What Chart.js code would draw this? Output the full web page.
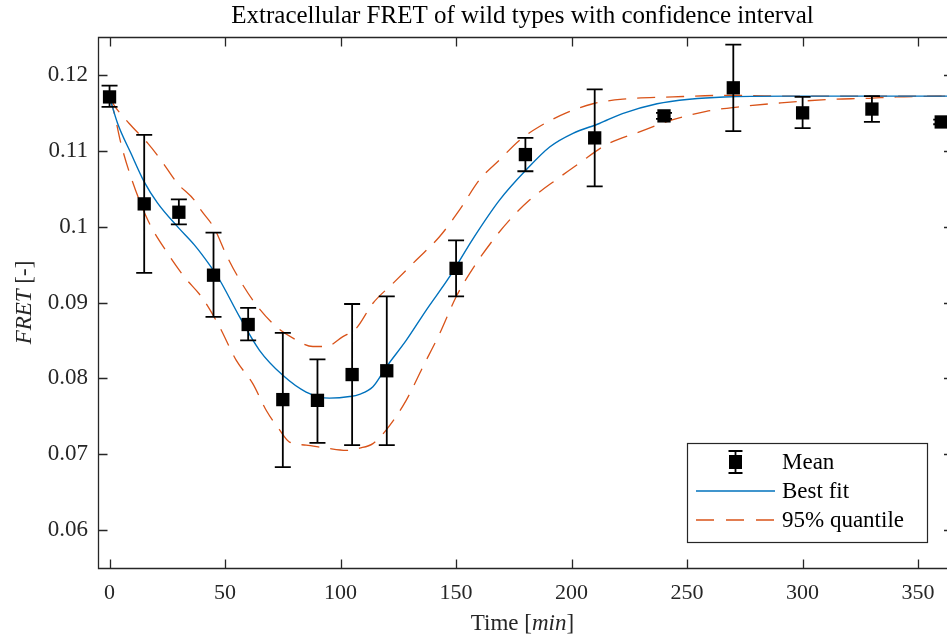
<!DOCTYPE html>
<html>
<head>
<meta charset="utf-8">
<title>Extracellular FRET</title>
<script src="https://cdn.jsdelivr.net/npm/chart.js@4.4.1/dist/chart.umd.min.js"></script>
<style>
  body { margin: 0; background: #fff; }
  canvas { display: block; }
</style>
</head>
<body>
<canvas id="fretChart" width="947" height="641"></canvas>
<script>
// measured means with error bounds
const times = [0, 15, 30, 45, 60, 75, 90, 105, 120, 150, 180, 210, 240, 270, 300, 330, 360];
const meanFret = [0.1171, 0.1030, 0.1019, 0.0936, 0.0871, 0.0772, 0.0771, 0.0805, 0.0810, 0.0945, 0.1095, 0.1117, 0.1146, 0.1183, 0.1150, 0.1155, 0.1138];
const errLow = [0.1158, 0.0939, 0.1003, 0.0881, 0.0850, 0.0683, 0.0715, 0.0712, 0.0712, 0.0908, 0.1073, 0.1053, 0.1142, 0.1126, 0.1130, 0.1138, 0.1135];
const errHigh = [0.1186, 0.1121, 0.1036, 0.0992, 0.0893, 0.0860, 0.0825, 0.0898, 0.0908, 0.0982, 0.1117, 0.1181, 0.1150, 0.1240, 0.1171, 0.1172, 0.1141];

// best fit curve
const fitTime = [0, 3.5, 9.2, 15, 20.8, 29.4, 36.7, 43.9, 47.6, 56.3, 64.9, 75, 85.1, 95.2, 103.9, 108.2, 114, 119.8, 128.4, 137.1, 147.2, 157.3, 168.8, 180.4, 190.5, 200.6, 212, 222, 237, 251, 266, 294, 330, 362.5];
const fitFret = [0.1171, 0.1136, 0.1097, 0.1059, 0.1031, 0.1000, 0.0976, 0.0947, 0.0930, 0.0881, 0.0837, 0.0804, 0.0782, 0.0774, 0.0776, 0.0779, 0.0789, 0.0815, 0.0850, 0.0890, 0.0934, 0.0984, 0.1035, 0.1075, 0.1105, 0.1123, 0.1136, 0.1149, 0.1162, 0.1168, 0.1171, 0.1172, 0.1172, 0.1172];

// 95% quantile band, upper and lower
const upperTime = [0, 2, 8.5, 16.5, 22.2, 29.4, 36.7, 39.5, 45.3, 50.5, 56.3, 63.5, 72.2, 79.4, 88, 93.8, 101, 106.8, 114, 122.6, 132.8, 142.9, 151.5, 160.2, 168.8, 177.5, 186.1, 197.7, 209.2, 222.2, 243.9, 265.5, 300, 362.5];
const upperFret = [0.1171, 0.1160, 0.1136, 0.1110, 0.1088, 0.1057, 0.1035, 0.1022, 0.0998, 0.0963, 0.0930, 0.0897, 0.0868, 0.0853, 0.0842, 0.0842, 0.0855, 0.0866, 0.0899, 0.0925, 0.0956, 0.0987, 0.1022, 0.1062, 0.1088, 0.1114, 0.1132, 0.1150, 0.1162, 0.1168, 0.1171, 0.1173, 0.1172, 0.1172];
const lowerTime = [0, 2, 4.9, 9.2, 16.5, 25.1, 32.3, 40.4, 47.6, 54.8, 62, 67.8, 73.6, 77.9, 85.1, 93.8, 102.5, 108.2, 114, 119.8, 128.4, 135.6, 142.9, 150.1, 157.3, 165.9, 173.2, 181.8, 193.4, 203.5, 215, 229.4, 243.9, 258.3, 272.7, 290, 313, 327.6, 340.6, 362.5];
const lowerFret = [0.1171, 0.1150, 0.1110, 0.1066, 0.1009, 0.0965, 0.0934, 0.0905, 0.0868, 0.0824, 0.0793, 0.0758, 0.0732, 0.0716, 0.0712, 0.0708, 0.0705, 0.0708, 0.0714, 0.0732, 0.0771, 0.0815, 0.0859, 0.0908, 0.0945, 0.0982, 0.1009, 0.1035, 0.1062, 0.1084, 0.1108, 0.1125, 0.1141, 0.1152, 0.1158, 0.1163, 0.1168, 0.1169, 0.1171, 0.1172];

const xTicks = [0, 50, 100, 150, 200, 250, 300, 350];
const yTicks = [0.06, 0.07, 0.08, 0.09, 0.1, 0.11, 0.12];

const serif = '"Liberation Serif", "Times New Roman", serif';
const axisColor = '#262626';
const blue = '#0072BD';
const orange = '#D95319';

const toXY = (xs, ys) => xs.map((x, i) => ({ x: x, y: ys[i] }));

// vertical error bars, drawn just before the mean markers
const errorBars = {
  id: 'errorBars',
  beforeDatasetDraw(chart, args) {
    if (args.index !== 0) return;
    const { ctx, scales: { x, y } } = chart;
    ctx.save();
    ctx.strokeStyle = '#000';
    ctx.lineWidth = 1.8;
    ctx.beginPath();
    times.forEach((t, i) => {
      const px = x.getPixelForValue(t);
      const top = y.getPixelForValue(errHigh[i]);
      const bot = y.getPixelForValue(errLow[i]);
      ctx.moveTo(px, top); ctx.lineTo(px, bot);
      ctx.moveTo(px - 8, top); ctx.lineTo(px + 8, top);
      ctx.moveTo(px - 8, bot); ctx.lineTo(px + 8, bot);
    });
    ctx.stroke();
    ctx.restore();
  }
};

// axes lines with inward ticks, plus title and axis labels
const frame = {
  id: 'frame',
  afterDatasetsDraw(chart) {
    const { ctx, chartArea: a, scales: { x, y } } = chart;
    const l = Math.round(a.left) + 0.5, t = Math.round(a.top) + 0.5, b = Math.round(a.bottom) + 0.5;
    ctx.save();
    ctx.strokeStyle = axisColor;
    ctx.lineWidth = 1.3;
    ctx.beginPath();
    ctx.moveTo(a.right + 2, t); ctx.lineTo(l, t); ctx.lineTo(l, b); ctx.lineTo(a.right + 2, b);
    xTicks.forEach(v => {
      const px = Math.round(x.getPixelForValue(v)) + 0.5;
      ctx.moveTo(px, b); ctx.lineTo(px, b - 9);
      ctx.moveTo(px, t); ctx.lineTo(px, t + 9);
    });
    yTicks.forEach(v => {
      const py = Math.round(y.getPixelForValue(v)) + 0.5;
      ctx.moveTo(l, py); ctx.lineTo(l + 9, py);
      ctx.moveTo(a.right, py); ctx.lineTo(a.right - 3, py);
    });
    ctx.stroke();

    const cx = (a.left + a.right) / 2;
    ctx.fillStyle = '#000';
    ctx.textAlign = 'center';
    ctx.textBaseline = 'alphabetic';
    ctx.font = '25px ' + serif;
    ctx.fillText('Extracellular FRET of wild types with confidence interval', cx, a.top - 14);

    // x label: "Time [min]" with min in italics
    ctx.fillStyle = axisColor;
    ctx.textAlign = 'left';
    const up = '23px ' + serif, it = 'italic 23px ' + serif;
    const parts = [['Time [', up], ['min', it], [']', up]];
    let total = 0;
    parts.forEach(p => { ctx.font = p[1]; total += ctx.measureText(p[0]).width; });
    let px = cx - total / 2;
    parts.forEach(p => { ctx.font = p[1]; ctx.fillText(p[0], px, a.bottom + 62); px += ctx.measureText(p[0]).width; });

    // y label: "FRET [-]" with FRET in italics
    ctx.translate(31, (a.top + a.bottom) / 2);
    ctx.rotate(-Math.PI / 2);
    const yparts = [['FRET', it], [' [-]', up]];
    total = 0;
    yparts.forEach(p => { ctx.font = p[1]; total += ctx.measureText(p[0]).width; });
    px = -total / 2;
    yparts.forEach(p => { ctx.font = p[1]; ctx.fillText(p[0], px, 0); px += ctx.measureText(p[0]).width; });
    ctx.restore();
  }
};

// legend in the lower right corner of the axes
const legendBox = {
  id: 'legendBox',
  afterDraw(chart) {
    const { ctx, chartArea: a } = chart;
    const w = 240, h = 99;
    const left = Math.round(a.right - 20 - w), top = Math.round(a.bottom - 26 - h);
    ctx.save();
    ctx.fillStyle = '#fff';
    ctx.fillRect(left, top, w, h);
    ctx.strokeStyle = axisColor;
    ctx.lineWidth = 1.2;
    ctx.strokeRect(left + 0.5, top + 0.5, w, h);

    const rows = [top + 19, top + 48, top + 77];
    const x0 = left + 9, x1 = left + 88, mid = (x0 + x1) / 2;

    // mean marker with its error bar
    ctx.strokeStyle = '#000';
    ctx.lineWidth = 1.8;
    ctx.beginPath();
    ctx.moveTo(mid, rows[0] - 11); ctx.lineTo(mid, rows[0] + 11);
    ctx.moveTo(mid - 7, rows[0] - 11); ctx.lineTo(mid + 7, rows[0] - 11);
    ctx.moveTo(mid - 7, rows[0] + 11); ctx.lineTo(mid + 7, rows[0] + 11);
    ctx.stroke();
    ctx.fillStyle = '#000';
    ctx.fillRect(mid - 6.5, rows[0] - 7, 13, 14);

    ctx.lineWidth = 1.3;
    ctx.strokeStyle = blue;
    ctx.beginPath(); ctx.moveTo(x0, rows[1]); ctx.lineTo(x1, rows[1]); ctx.stroke();
    ctx.strokeStyle = orange;
    ctx.setLineDash([18, 12]);
    ctx.beginPath(); ctx.moveTo(x0, rows[2]); ctx.lineTo(x1, rows[2]); ctx.stroke();
    ctx.setLineDash([]);

    ctx.fillStyle = '#000';
    ctx.font = '23px ' + serif;
    ctx.textBaseline = 'middle';
    ctx.textAlign = 'left';
    ['Mean', 'Best fit', '95% quantile'].forEach((s, i) => ctx.fillText(s, left + 95, rows[i] + 1));
    ctx.restore();
  }
};

const ctx = document.getElementById('fretChart');
const chart = new Chart(ctx, {
  type: 'scatter',
  data: {
    datasets: [{
      label: 'Mean',
      data: toXY(times, meanFret),
      backgroundColor: '#000',
      borderColor: '#000',
      borderWidth: 0,
      pointStyle: 'rect',
      pointRadius: 9.4,
      pointHoverRadius: 9.4,
      clip: false,
      order: 0
    }, {
      label: 'Best fit',
      data: toXY(fitTime, fitFret),
      showLine: true,
      borderColor: blue,
      borderWidth: 1.4,
      pointRadius: 0,
      cubicInterpolationMode: 'monotone',
      order: 1
    }, {
      label: '95% quantile',
      data: toXY(upperTime, upperFret),
      showLine: true,
      borderColor: orange,
      borderWidth: 1.3,
      borderDash: [18, 11],
      pointRadius: 0,
      cubicInterpolationMode: 'monotone',
      order: 2
    }, {
      label: '95% quantile lower',
      data: toXY(lowerTime, lowerFret),
      showLine: true,
      borderColor: orange,
      borderWidth: 1.3,
      borderDash: [18, 11],
      pointRadius: 0,
      cubicInterpolationMode: 'monotone',
      order: 2
    }]
  },
  options: {
    responsive: false,
    animation: false,
    layout: { autoPadding: false, padding: { top: 37, right: 0, left: 0, bottom: 0 } },
    plugins: {
      legend: { display: false },
      tooltip: { enabled: false }
    },
    scales: {
      x: {
        type: 'linear',
        min: -5,
        max: 362.5,
        afterBuildTicks: s => { s.ticks = xTicks.map(v => ({ value: v })); },
        afterFit: s => { s.height = 73; s.paddingLeft = 0; s.paddingRight = 0; },
        grid: { display: false },
        border: { display: false },
        ticks: {
          color: axisColor,
          padding: 4,
          maxRotation: 0,
          font: { family: serif, size: 22 }
        }
      },
      y: {
        min: 0.055,
        max: 0.125,
        afterBuildTicks: s => { s.ticks = yTicks.map(v => ({ value: v })); },
        afterFit: s => { s.width = 98; s.paddingTop = 0; s.paddingBottom = 0; },
        grid: { display: false },
        border: { display: false },
        ticks: {
          color: axisColor,
          padding: 2,
          font: { family: serif, size: 23 },
          callback: v => String(+v.toFixed(3))
        }
      }
    }
  },
  plugins: [errorBars, frame, legendBox]
});
</script>
</body>
</html>
